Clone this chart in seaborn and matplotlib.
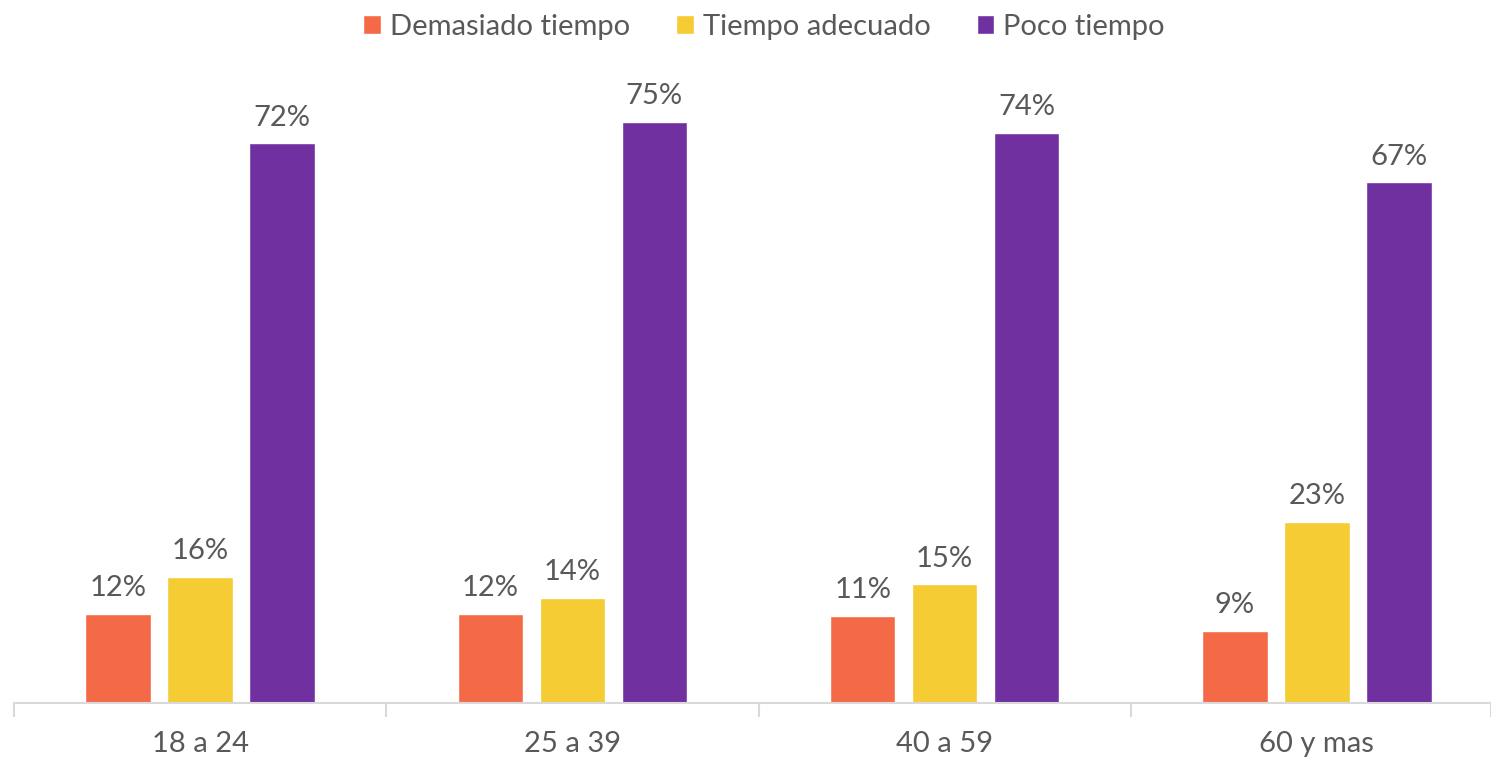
import pandas as pd
import matplotlib.pyplot as plt
import seaborn as sns

grupos = ["18 a 24", "25 a 39", "40 a 59", "60 y mas"]
series = ["Demasiado tiempo", "Tiempo adecuado", "Poco tiempo"]
demasiado = [11.5, 11.5, 11.25, 9.3]
adecuado = [16.3, 13.6, 15.3, 23.4]
poco = [72.2, 75.0, 73.6, 67.2]
colores = ["#F46A47", "#F5CC33", "#7030A0"]

df = pd.DataFrame({
    "grupo": grupos * 3,
    "serie": [s for s in series for _ in grupos],
    "valor": demasiado + adecuado + poco,
})

sns.set_theme(style="white")
plt.rcParams["font.family"] = ["Lato", "DejaVu Sans"]
gris = "#595959"

fig = plt.figure(figsize=(14.91, 7.59), dpi=100)
ax = fig.add_axes([14 / 1491, 56 / 759, 1477 / 1491, 620 / 759])

sns.barplot(data=df, x="grupo", y="valor", hue="serie", hue_order=series,
            palette=colores, width=0.66, gap=0.2, saturation=1,
            legend=True, ax=ax)

for cont in ax.containers:
    etiquetas = ["{:.0f}%".format(v) for v in cont.datavalues]
    ax.bar_label(cont, labels=etiquetas, padding=9, fontsize=21, color=gris)

ax.set_xlim(-0.5, 3.5 - 12 / 372)
ax.set_ylim(0, 80)
ax.set_xlabel("")
ax.set_ylabel("")
ax.set_yticks([])
for lado in ["top", "right", "left"]:
    ax.spines[lado].set_visible(False)
ax.spines["bottom"].set_color("#D9D9D9")
ax.spines["bottom"].set_linewidth(1.5)
ax.tick_params(axis="x", which="major", length=0, labelsize=21,
               labelcolor=gris, pad=20)
ax.set_xticks([-0.5, 0.5, 1.5, 2.5, 3.5 - 12 / 372], minor=True)
ax.tick_params(axis="x", which="minor", length=10, width=1.5,
               color="#D9D9D9", bottom=True)

handles, labels = ax.get_legend_handles_labels()
ax.get_legend().remove()
fig.legend(handles, labels, loc="center", bbox_to_anchor=(764 / 1491, 1 - 27 / 759),
           ncol=3, frameon=False, fontsize=21, labelcolor=gris,
           handlelength=0.6, handleheight=0.6, handletextpad=0.3,
           columnspacing=1.6)

plt.savefig("out.png", dpi=100)
